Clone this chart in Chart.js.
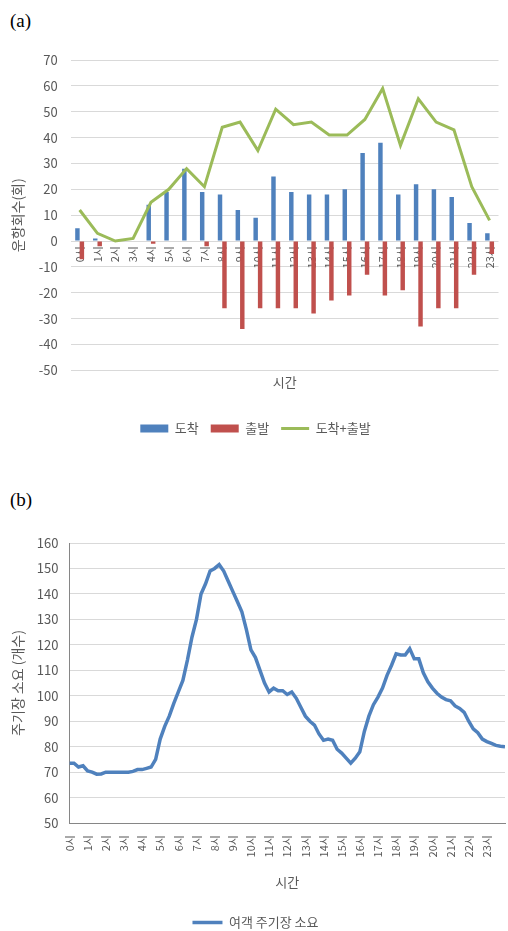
<!DOCTYPE html>
<html><head><meta charset="utf-8">
<script src="https://cdn.jsdelivr.net/npm/chart.js@4"></script>
<style>
html,body{margin:0;padding:0;background:#fff;width:508px;height:931px;overflow:hidden;}
.wrap{position:absolute;left:0;width:508px;}
.tag{position:absolute;left:10px;font-family:'Liberation Serif','DejaVu Serif',serif;font-size:19px;color:#000;}
</style></head>
<body>
<div class="tag" style="top:10px">(a)</div>
<div class="wrap" style="top:0;height:445px"><canvas id="c1" width="508" height="445"></canvas></div>
<div class="tag" style="top:489px">(b)</div>
<div class="wrap" style="top:470px;height:473px"><canvas id="c2" width="508" height="473"></canvas></div>
<script>
// ---- data (a) ----
const hourLabels = ['0시','1시','2시','3시','4시','5시','6시','7시','8시','9시','10시','11시','12시','13시','14시','15시','16시','17시','18시','19시','20시','21시','22시','23시'];
const arrivals   = [5,1,0,0,14,19,28,19,18,12,9,25,19,18,18,20,34,38,18,22,20,17,7,3];
const departures = [-7,-2,0,0,-1,0,0,-2,-26,-34,-26,-26,-26,-28,-23,-21,-13,-21,-19,-33,-26,-26,-13,-5];
const totals     = [12,3,0,1,15,20,28,21,44,46,35,51,45,46,41,41,47,59,37,55,46,43,21,8];
const yTicksA = {min:-50, max:70, step:10};
// ---- data (b) : apron stand demand, sampled every 15 min ----
const demandStepHours = 0.25;
const demandValues = [
 73.5,73.5,72,72.5, 70.5,70,69.2,69.3, 70,70,70,70, 70,70,70.3,71,
 71,71.5,72,75, 83,88,92,97, 101.5,106,114,123, 130,140,144,149,
 150,151.5,149,145, 141,137,133,126, 118,115,110,105, 101.5,103,102,102,
 100.5,101.5,99,95.5, 92,90,88.5,85, 82.5,83,82.5,79, 77.5,75.5,73.5,75.5,
 78,86,92,96.5, 99.5,103,108,112, 116.5,116,116,118.5, 114.5,114.5,109,105.5,
 103,101,99.5,98.5, 98,96,95,93.5, 90,87,85.5,83, 82,81.3,80.5,80.2, 80
];
const yTicksB = {min:50, max:160, step:10};

Chart.defaults.font.family = "'Noto Sans CJK KR','Noto Sans',sans-serif";
Chart.defaults.color = '#595959';
Chart.defaults.animation = false;

new Chart(document.getElementById('c1'), {
  type:'bar',
  data:{
    labels: hourLabels,
    datasets:[
      {label:'도착', data:arrivals, backgroundColor:'#4F81BD', pointStyle:'rect', order:1},
      {label:'출발', data:departures, backgroundColor:'#C0504D', pointStyle:'rect', order:1},
      {type:'line', label:'도착+출발', data:totals, borderColor:'#9BBB59', backgroundColor:'#9BBB59',
       borderWidth:3, pointRadius:0, pointStyle:'line', tension:0, order:0}
    ]
  },
  options:{
    responsive:false,
    datasets:{bar:{categoryPercentage:0.5, barPercentage:1.0}},
    layout:{padding:{left:6, top:60, right:3, bottom:0}},
    plugins:{
      legend:{position:'bottom', labels:{usePointStyle:true, pointStyleWidth:28, boxHeight:8, font:{size:13}, padding:12,
        sort:(a,b)=>a.datasetIndex-b.datasetIndex}},
      tooltip:{enabled:false}
    },
    scales:{
      x:{position:{y:0}, grid:{display:false, drawTicks:false}, border:{display:false},
         ticks:{minRotation:90, maxRotation:90, autoSkip:false, font:{size:11}, padding:5}},
      x2:{type:'category', axis:'x', position:'bottom', labels:hourLabels, grid:{display:false, drawTicks:false}, border:{display:false},
         ticks:{display:false}, title:{display:true, text:'시간', font:{size:13}, padding:{top:4,bottom:20}}},
      y:{min:yTicksA.min, max:yTicksA.max, ticks:{stepSize:yTicksA.step, font:{size:13}, padding:13},
         grid:{color:'#d9d9d9', drawTicks:false}, border:{display:false},
         title:{display:true, text:'운항회수(회)', font:{size:14}, padding:{top:3,bottom:0}}}
    }
  }
});

const demandPoints = demandValues.map((v,i)=>({x:i*demandStepHours, y:v}));
new Chart(document.getElementById('c2'), {
  type:'line',
  data:{datasets:[{label:'여객 주기장 소요', data:demandPoints, borderColor:'#4F81BD', backgroundColor:'#4F81BD',
        borderWidth:3.5, pointRadius:0, pointStyle:'line', tension:0}]},
  options:{
    responsive:false,
    layout:{padding:{left:6, top:73, right:3, bottom:4}},
    plugins:{
      legend:{position:'bottom', labels:{usePointStyle:true, pointStyleWidth:30, boxHeight:8, font:{size:13}}},
      tooltip:{enabled:false}
    },
    scales:{
      x:{type:'linear', min:0, max:24, grid:{display:false}, border:{display:true, color:'#868686'},
         afterBuildTicks:(s)=>{ s.ticks = s.ticks.filter(t=>t.value < hourLabels.length); },
         ticks:{stepSize:1, autoSkip:false, minRotation:90, maxRotation:90, font:{size:11}, padding:4,
           callback:(v)=> (hourLabels[v] !== undefined ? hourLabels[v] : '')},
         title:{display:true, text:'시간', font:{size:13}, padding:{top:13,bottom:16}}},
      y:{min:yTicksB.min, max:yTicksB.max, ticks:{stepSize:yTicksB.step, font:{size:13}, padding:11},
         grid:{color:'#d9d9d9', drawTicks:false}, border:{display:true, color:'#868686'},
         title:{display:true, text:'주기장 소요 (개수)', font:{size:14}, padding:{top:3,bottom:0}}}
    }
  }
});
</script>
</body></html>
